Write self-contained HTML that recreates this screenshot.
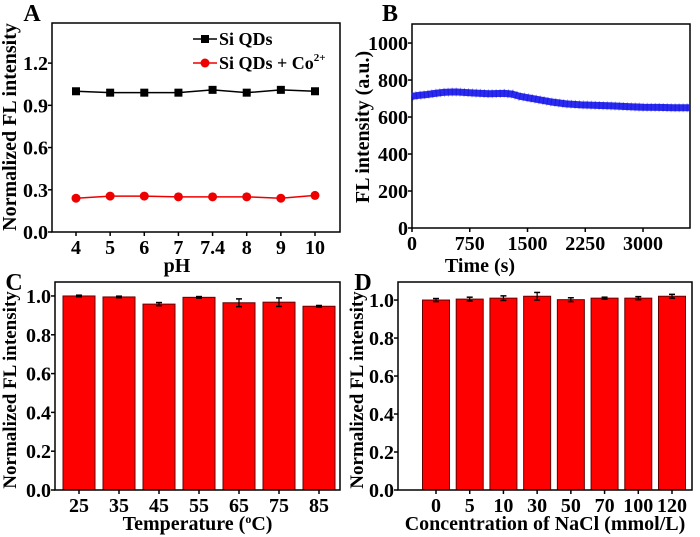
<!DOCTYPE html>
<html><head><meta charset="utf-8"><style>
html,body{margin:0;padding:0;background:#fff}
svg{display:block;font-family:"Liberation Serif","Times New Roman",serif;font-weight:bold}
</style></head><body>
<svg id="fig" width="700" height="537" viewBox="0 0 700 537" xmlns="http://www.w3.org/2000/svg"></svg>
<script>
// Panel A data
const phCats = ["4","5","6","7","7.4","8","9","10"];
const siQDs = [1.00,0.99,0.99,0.99,1.01,0.99,1.01,1.00];
const siQDsCo = [0.24,0.255,0.255,0.25,0.25,0.25,0.24,0.26];
const aTicks = [0,0.3,0.6,0.9,1.2];
const aTickLabels = ["0.0","0.3","0.6","0.9","1.2"];
// Panel B data
const timeVals = [0,100,200,300,400,500,600,800,1000,1200,1300,1400,1600,1800,2000,2200,2400,2600,2800,3000,3200,3400,3600];
const flVals = [712,718,722,728,733,735,735,730,726,728,724,712,697,682,671,666,663,660,656,653,652,650,650];
const bXTicks = [0,750,1500,2250,3000];
const bYTicks = [0,200,400,600,800,1000];
// Panel C data
const tempCats = ["25","35","45","55","65","75","85"];
const tempVals = [1.0,0.995,0.958,0.993,0.965,0.968,0.947];
const tempErr = [0.004,0.004,0.008,0.004,0.02,0.022,0.004];
// Panel D data
const naclCats = ["0","5","10","30","50","70","100","120"];
const naclVals = [1.0,1.005,1.01,1.02,1.002,1.01,1.01,1.02];
const naclErr = [0.008,0.01,0.012,0.02,0.01,0.005,0.008,0.01];
const cdTicks = [0,0.2,0.4,0.6,0.8,1.0];
const cdTickLabels = ["0.0","0.2","0.4","0.6","0.8","1.0"];

const NS="http://www.w3.org/2000/svg";
const svg=document.getElementById('fig');
function mk(tag,attrs,parent,text){const e=document.createElementNS(NS,tag);for(const k in attrs)e.setAttribute(k,attrs[k]);if(text!==undefined)e.textContent=text;(parent||svg).appendChild(e);return e;}

function panel(name){
  const g=mk('g',{});
  
  
  return g;
}
function frame(g,x0,y0,x1,y1){
  const r=mk('rect',{x:x0,y:y0,width:x1-x0,height:y1-y0,fill:'none',stroke:'#000','stroke-width':1.5},g);
  
  
}
function yAxis(g,x0,ticks,labels,ys,fs){
  ticks.forEach((t,i)=>{
    const y=ys(t);
    mk('line',{x1:x0-4,y1:y,x2:x0,y2:y,stroke:'#000','stroke-width':1.5},g);
    const tx=mk('text',{x:x0-4,y:y+7,'text-anchor':'end','font-size':fs},g,labels[i]);
    
    
  });
}
function label(g,txt,x,y,fs,name,rot){
  const t=mk('text',{x:x,y:y,'text-anchor':'middle','font-size':fs},g,txt);
  if(rot)t.setAttribute('transform','rotate(-90 '+x+' '+y+')');
  
  
  return t;
}

// ---------- Panel A ----------
(function(){
  const g=panel('panel-a');
  const L=52,R=340,T=23,B=232,ymax=1.485;
  const ys=v=>B-v/ymax*(B-T);
  const x0=76,step=(315-76)/(phCats.length-1);
  const xs=i=>x0+i*step;
  frame(g,L,T,R,B);
  yAxis(g,L,aTicks,aTickLabels,ys,20);
  phCats.forEach((c,i)=>{
    mk('line',{x1:xs(i),y1:B,x2:xs(i),y2:B+4,stroke:'#000','stroke-width':1.5},g);
    const t=mk('text',{x:xs(i),y:B+22,'text-anchor':'middle','font-size':20},g,c);
    
    
  });
  label(g,'pH',177,272,20,'x-axis-title');
  label(g,'Normalized FL intensity',16,127,20,'y-axis-title',true);
  label(g,'A',32,21,24,'panel-label');
  [[siQDs,'#000','sq','series-si-qds'],[siQDsCo,'#e00','circ','series-si-qds-co']].forEach(s=>{
    const sg=mk('g',{},g);
    
    
    mk('polyline',{points:s[0].map((v,i)=>xs(i)+','+ys(v)).join(' '),fill:'none',stroke:s[1],'stroke-width':1.5},sg);
    s[0].forEach((v,i)=>{
      const m = s[2]==='sq'? mk('rect',{x:xs(i)-4,y:ys(v)-4,width:8,height:8,fill:'#000'},sg)
                           : mk('circle',{cx:xs(i),cy:ys(v),r:4.5,fill:'#e00'},sg);
      
      
    });
  });
  const lg=mk('g',{},g);
  
  
  mk('line',{x1:193,y1:39,x2:217,y2:39,stroke:'#000','stroke-width':1.5},lg);
  mk('rect',{x:201,y:35,width:8,height:8,fill:'#000'},lg);
  const t1=mk('text',{x:219,y:45,'font-size':18},lg,'Si QDs');
  
  mk('line',{x1:193,y1:63,x2:217,y2:63,stroke:'#e00','stroke-width':1.5},lg);
  mk('circle',{cx:205,cy:63,r:4.5,fill:'#e00'},lg);
  const t2=mk('text',{x:219,y:69,'font-size':18},lg);
  
  t2.innerHTML='Si QDs + Co<tspan dy="-8" font-size="11">2+</tspan>';
})();

// ---------- Panel B ----------
(function(){
  const g=panel('panel-b');
  const L=412,R=690,T=24,B=228,xmax=3610,ymax=1103;
  const xs=v=>L+v/xmax*(R-L);
  const ys=v=>B-v/ymax*(B-T);
  frame(g,L,T,R,B);
  yAxis(g,L,bYTicks,bYTicks.map(String),ys,20);
  bXTicks.forEach(t=>{
    mk('line',{x1:xs(t),y1:B,x2:xs(t),y2:B+4,stroke:'#000','stroke-width':1.5},g);
    const tx=mk('text',{x:xs(t),y:B+22,'text-anchor':'middle','font-size':20},g,String(t));
    
  });
  label(g,'Time (s)',480,272,20,'x-axis-title');
  label(g,'FL intensity (a.u.)',369,127,20,'y-axis-title',true);
  label(g,'B',390,21,24,'panel-label');
  const pts=timeVals.map((t,i)=>xs(Math.min(t,xmax))+','+ys(flVals[i])).join(' ');
  const band=mk('polyline',{points:pts,fill:'none',stroke:'#2a2af0','stroke-width':7,'stroke-linejoin':'round'},g);
  
  
  mk('polyline',{points:pts,fill:'none',stroke:'#0000c0','stroke-width':9,'stroke-dasharray':'1 3','opacity':0.35},g);
})();

// ---------- Bar panels ----------
function barPanel(name,letter,L,R,T,B,ymax,cats,vals,errs,x0,x1,bw,xtitle,lx,ytx,fsTick){
  const g=panel(name);
  const ys=v=>B-v/ymax*(B-T);
  const step=(x1-x0)/(cats.length-1);
  const xs=i=>x0+i*step;
  cats.forEach((c,i)=>{
    const r=mk('rect',{x:xs(i)-bw/2,y:ys(vals[i]),width:bw,height:B-ys(vals[i]),fill:'#ff0000',stroke:'#600','stroke-width':1},g);
    
    
    const e1=ys(vals[i]+errs[i]),e2=ys(vals[i]-errs[i]);
    mk('line',{x1:xs(i),y1:e1,x2:xs(i),y2:e2,stroke:'#000','stroke-width':1.2},g);
    mk('line',{x1:xs(i)-3,y1:e1,x2:xs(i)+3,y2:e1,stroke:'#000','stroke-width':1.5},g);
    mk('line',{x1:xs(i)-3,y1:e2,x2:xs(i)+3,y2:e2,stroke:'#000','stroke-width':1.5},g);
    mk('line',{x1:xs(i),y1:B,x2:xs(i),y2:B+4,stroke:'#000','stroke-width':1.5},g);
    const t=mk('text',{x:xs(i),y:B+22,'text-anchor':'middle','font-size':fsTick},g,c);
    
  });
  frame(g,L,T,R,B);
  yAxis(g,L,cdTicks,cdTickLabels,ys,20);
  const xt=label(g,'',(L+R)/2,B+40,20,'x-axis-title');
  xt.innerHTML=xtitle;
  label(g,'Normalized FL intensity',ytx,(T+B)/2+4,19,'y-axis-title',true);
  label(g,letter,lx,290,24,'panel-label');
}
barPanel('panel-c','C',55,340,282,490,1.072,tempCats,tempVals,tempErr,79,319,32,'Temperature (<tspan dy="-7" font-size="12">o</tspan><tspan dy="7">C)</tspan>',14,16,20);
barPanel('panel-d','D',398,692,282,490,1.095,naclCats,naclVals,naclErr,436,672,27,'Concentration of NaCl (mmol/L)',363,363,20);
</script>
</body></html>
